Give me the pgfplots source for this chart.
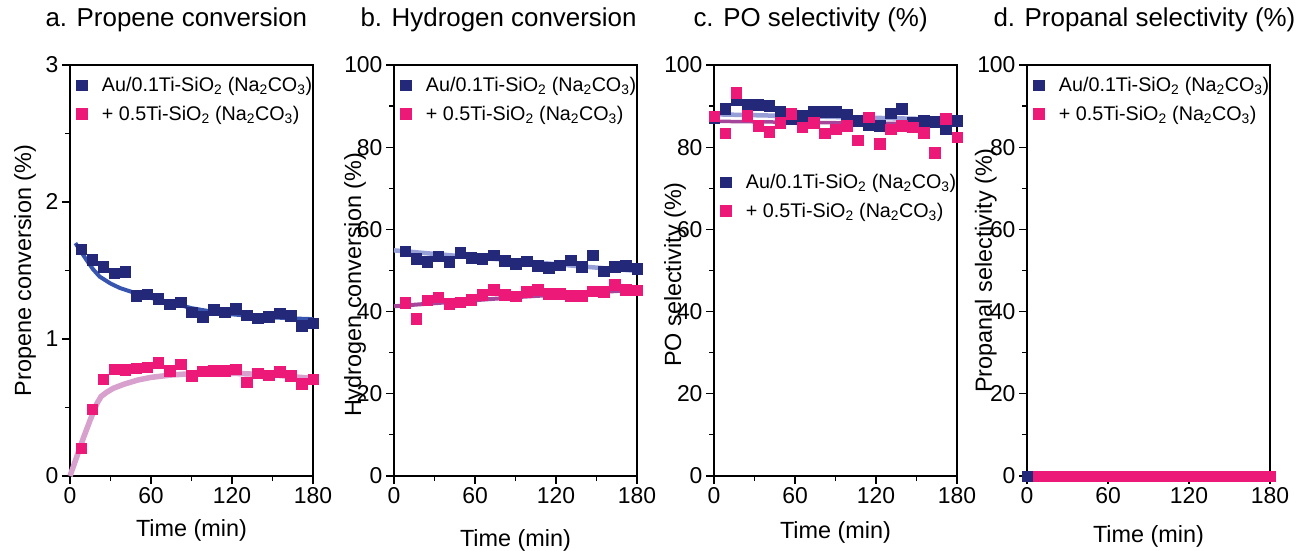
\documentclass[border=0pt]{standalone}
\usepackage{fontspec}
\setmainfont{Liberation Sans}
\usepackage{pgfplots}
\pgfplotsset{compat=1.18}

\definecolor{navy}{RGB}{35,40,120}
\definecolor{hotpink}{RGB}{236,25,120}
\definecolor{fitblue}{RGB}{55,85,175}
\definecolor{lightblue}{RGB}{150,160,215}
\definecolor{mauve}{RGB}{215,160,205}
\definecolor{purp}{RGB}{165,70,155}

\pgfplotsset{
  panel/.style={
    scale only axis, width=243bp, height=411bp,
    xmin=0, xmax=180, xtick={0,60,120,180}, minor xtick={30,90,150},
    axis line style={line width=1.4bp},
    tick style={line width=1.2bp, black},
    major tick length=8bp, minor tick length=5bp,
    tick align=outside, xtick pos=bottom, ytick pos=left,
    ticklabel style={font=\fontsize{23}{23}\selectfont, /pgf/number format/assume math mode=true},
    label style={font=\fontsize{23.5}{24}\selectfont},
    xlabel={Time (min)},
    clip=false,
    legend style={draw=none, fill=none, font=\fontsize{19.8}{22}\selectfont,
      anchor=north west, row sep=11bp, nodes={inner sep=1bp},
      /tikz/every odd column/.append style={column sep=14bp}},
    legend cell align=left,
  },
  pct/.style={ymin=0, ymax=100, ytick={0,20,40,60,80,100}, minor ytick={10,30,50,70,90}},
  pts/.style={only marks, mark=square*, mark size=5.3bp, color=#1, mark options={draw=#1, fill=#1}},
}

\newcommand{\lgA}{Au/0.1Ti-SiO\textsubscript{2} (Na\textsubscript{2}CO\textsubscript{3})}
\newcommand{\lgB}{+ 0.5Ti-SiO\textsubscript{2} (Na\textsubscript{2}CO\textsubscript{3})}

\begin{document}
\begin{tikzpicture}
\useasboundingbox (0,0) rectangle (1304bp,551bp);

\node[anchor=base west, font=\fontsize{26}{27}\selectfont] at (42bp,524bp) {a. Propene conversion};
\node[anchor=base west, font=\fontsize{26}{27}\selectfont] at (357bp,524bp) {b. Hydrogen conversion};
\node[anchor=base west, font=\fontsize{26}{27}\selectfont] at (690bp,524bp) {c. PO selectivity (\%)};
\node[anchor=base west, font=\fontsize{26}{27}\selectfont] at (990bp,524bp) {d. Propanal selectivity (\%)};

% a. propene conversion
\begin{axis}[panel, at={(70bp,75bp)}, anchor=south west,
  ymin=0, ymax=3, ytick={0,1,2,3}, minor ytick={0.5,1.5,2.5},
  ylabel={Propene conversion (\%)},
  ylabel style={at={(axis description cs:-0.185,0.5)}, anchor=center},
  xlabel style={at={(axis description cs:0.5,0)}, anchor=center, yshift=-54bp},
  legend style={at={(axis description cs:0.013,0.978)}}]
\addplot[fitblue, line width=4bp, forget plot] coordinates {
(4,1.70) (8,1.64) (12,1.58) (17,1.51) (22,1.455) (30,1.405) (37,1.372) (49,1.333)
(60,1.30) (75,1.265) (90,1.225) (105,1.20) (120,1.18) (135,1.168) (150,1.158) (165,1.15) (180,1.145)};
\addplot[mauve, line width=5.5bp, forget plot] coordinates {
(0,0) (5,0.14) (10,0.28) (15,0.41) (20,0.53) (23,0.58) (27,0.61) (32,0.64) (40,0.67)
(50,0.70) (60,0.72) (75,0.737) (90,0.747) (120,0.75) (150,0.738) (180,0.712)};
\addplot[pts=navy] coordinates {
(8.18,1.654) (16.36,1.577) (24.55,1.528) (32.73,1.479) (40.91,1.491) (49.09,1.316)
(57.27,1.328) (65.45,1.292) (73.64,1.255) (81.82,1.268) (90,1.195) (98.18,1.161)
(106.36,1.212) (114.55,1.195) (122.73,1.219) (130.91,1.175) (139.09,1.151) (147.27,1.161)
(155.45,1.187) (163.64,1.170) (171.82,1.095) (180,1.114)};
\addplot[pts=hotpink] coordinates {
(8.18,0.202) (16.36,0.487) (24.55,0.706) (32.73,0.779) (40.91,0.774) (49.09,0.786)
(57.27,0.793) (65.45,0.827) (73.64,0.769) (81.82,0.815) (90,0.732) (98.18,0.766)
(106.36,0.769) (114.55,0.769) (122.73,0.781) (130.91,0.684) (139.09,0.749) (147.27,0.737)
(155.45,0.762) (163.64,0.730) (171.82,0.672) (180,0.708)};
\legend{\lgA, \lgB}
\end{axis}

% b. hydrogen conversion
\begin{axis}[panel, pct, at={(394bp,75bp)}, anchor=south west,
  ylabel={Hydrogen conversion (\%)},
  ylabel style={at={(axis description cs:-0.16,0.465)}, anchor=center},
  xlabel style={at={(axis description cs:0.5,0)}, anchor=center, yshift=-64bp},
  legend style={at={(axis description cs:0.013,0.978)}}]
\addplot[lightblue, line width=4.5bp, forget plot] coordinates {
(0,54.9) (45,53.6) (90,52.4) (135,51.1) (180,49.9)};
\addplot[purp, line width=4bp, forget plot] coordinates {
(0,41.3) (45,42.4) (90,43.5) (135,44.4) (180,45.3)};
\addplot[pts=navy] coordinates {
(8.18,54.7) (16.36,52.9) (24.55,52.2) (32.73,53.5) (40.91,52.2) (49.09,54.3)
(57.27,53.1) (65.45,52.9) (73.64,53.7) (81.82,52.4) (90,51.7) (98.18,52.3)
(106.36,51.1) (114.55,50.7) (122.73,51.3) (130.91,52.5) (139.09,50.9) (147.27,53.7)
(155.45,49.8) (163.64,50.9) (171.82,51.1) (180,50.4)};
\addplot[pts=hotpink] coordinates {
(8.18,42.1) (16.36,38.2) (24.55,42.8) (32.73,43.5) (40.91,41.9) (49.09,42.3)
(57.27,42.9) (65.45,44.1) (73.64,45.4) (81.82,44.1) (90,43.7) (98.18,44.8)
(106.36,45.4) (114.55,44.3) (122.73,44.3) (130.91,43.9) (139.09,43.9) (147.27,45.0)
(155.45,44.8) (163.64,46.6) (171.82,45.4) (180,45.2)};
\legend{\lgA, \lgB}
\end{axis}

% c. PO selectivity
\begin{axis}[panel, pct, at={(714bp,75bp)}, anchor=south west,
  ylabel={PO selectivity (\%)},
  ylabel style={at={(axis description cs:-0.16,0.49)}, anchor=center},
  xlabel style={at={(axis description cs:0.5,0)}, anchor=center, yshift=-56bp},
  legend style={at={(axis description cs:0.013,0.742)}}]
\addplot[lightblue, line width=4.5bp, forget plot] coordinates {(0,88.0) (180,86.7)};
\addplot[purp, line width=3.5bp, forget plot] coordinates {(0,86.3) (180,85.6)};
\addplot[pts=navy] coordinates {
(0,87.1) (8.18,89.3) (16.36,91.5) (24.55,90.4) (32.73,90.4) (40.91,90.1) (49.09,88.8)
(57.27,86.9) (65.45,87.6) (73.64,88.8) (81.82,88.7) (90,88.6) (98.18,87.9)
(106.36,86.4) (114.55,85.4) (122.73,85.2) (130.91,88.3) (139.09,89.4) (147.27,86.1)
(155.45,86.4) (163.64,86.2) (171.82,84.4) (180,86.4)};
\addplot[pts=hotpink] coordinates {
(0,87.5) (8.18,83.4) (16.36,93.3) (24.55,87.6) (32.73,85.2) (40.91,83.7) (49.09,86.0)
(57.27,88.1) (65.45,84.9) (73.64,86.0) (81.82,83.4) (90,84.4) (98.18,85.3)
(106.36,81.7) (114.55,87.3) (122.73,80.9) (130.91,84.4) (139.09,85.3) (147.27,84.9)
(155.45,83.5) (163.64,78.7) (171.82,86.9) (180,82.4)};
\legend{\lgA, \lgB}
\end{axis}

% d. propanal selectivity
\begin{axis}[panel, pct, at={(1027bp,75bp)}, anchor=south west,
  ylabel={Propanal selectivity (\%)},
  ylabel style={at={(axis description cs:-0.17,0.5)}, anchor=center},
  xlabel style={at={(axis description cs:0.5,0)}, anchor=center, yshift=-60bp},
  legend style={at={(axis description cs:0.013,0.978)}}]
\addplot[pts=navy] coordinates {
(0,0) (8.18,0) (16.36,0) (24.55,0) (32.73,0) (40.91,0) (49.09,0)
(57.27,0) (65.45,0) (73.64,0) (81.82,0) (90,0) (98.18,0)
(106.36,0) (114.55,0) (122.73,0) (130.91,0) (139.09,0) (147.27,0)
(155.45,0) (163.64,0) (171.82,0) (180,0)};
\addplot[pts=hotpink] coordinates {
(8.18,0) (16.36,0) (24.55,0) (32.73,0) (40.91,0) (49.09,0)
(57.27,0) (65.45,0) (73.64,0) (81.82,0) (90,0) (98.18,0)
(106.36,0) (114.55,0) (122.73,0) (130.91,0) (139.09,0) (147.27,0)
(155.45,0) (163.64,0) (171.82,0) (180,0)};
\legend{\lgA, \lgB}
\end{axis}
\end{tikzpicture}
\end{document}
